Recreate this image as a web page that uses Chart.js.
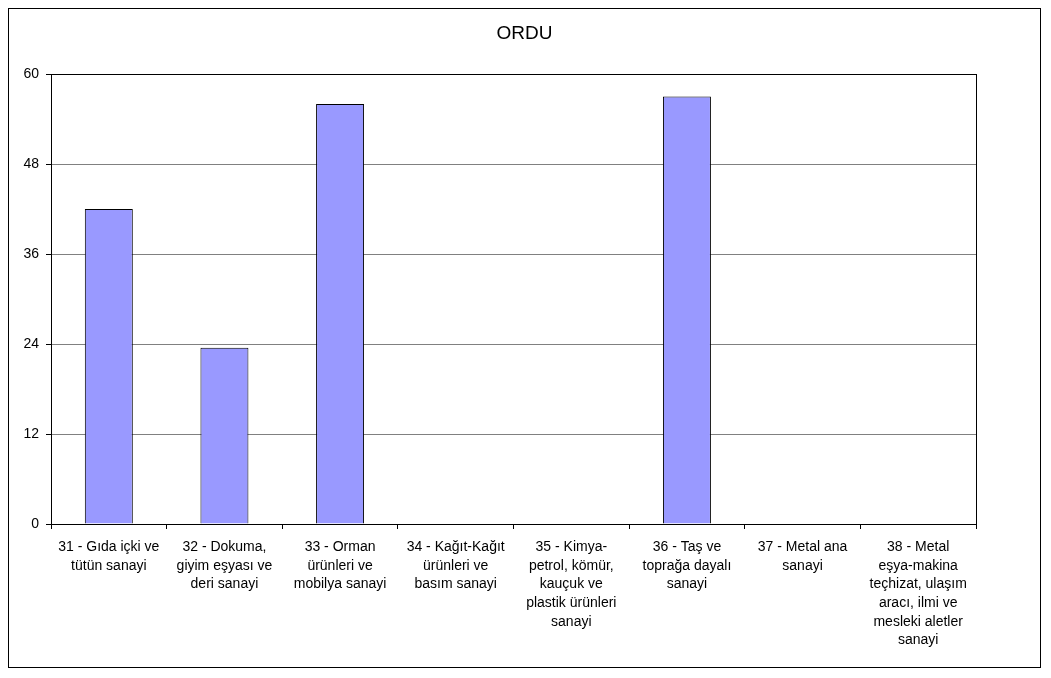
<!DOCTYPE html>
<html>
<head>
<meta charset="utf-8">
<script src="https://cdn.jsdelivr.net/npm/chart.js@4.4.1/dist/chart.umd.min.js"></script>
<style>
  body { margin: 0; background: #fff; }
  #frame {
    position: absolute; left: 8px; top: 8px;
    width: 1031px; height: 658px;
    border: 1px solid #000;
  }
</style>
</head>
<body>
<div id="frame"><canvas id="myChart" width="1031" height="658"></canvas></div>
<script>
const chartTitle = "ORDU";
const categories = [
  ["31 - Gıda içki ve", "tütün sanayi"],
  ["32 - Dokuma,", "giyim eşyası ve", "deri sanayi"],
  ["33 - Orman", "ürünleri ve", "mobilya sanayi"],
  ["34 - Kağıt-Kağıt", "ürünleri ve", "basım sanayi"],
  ["35 - Kimya-", "petrol, kömür,", "kauçuk ve", "plastik ürünleri", "sanayi"],
  ["36 - Taş ve", "toprağa dayalı", "sanayi"],
  ["37 - Metal ana", "sanayi"],
  ["38 - Metal", "eşya-makina", "teçhizat, ulaşım", "aracı, ilmi ve", "mesleki aletler", "sanayi"],
];
const values = [42, 23.5, 56, 0, 0, 57, 0, 0];
const yMax = 60;
const yStep = 12;

const fontFamily = "'Liberation Sans', Arial, sans-serif";

const ctx = document.getElementById("myChart");
new Chart(ctx, {
  type: "bar",
  data: {
    labels: categories,
    datasets: [
      {
        data: values,
        backgroundColor: "#9999FF",
        borderColor: "#000",
        borderWidth: 1,
        barPercentage: 0.415,
        categoryPercentage: 1,
      },
    ],
  },
  options: {
    responsive: false,
    animation: false,
    layout: { padding: 0 },
    plugins: {
      legend: { display: false },
      tooltip: { enabled: false },
      title: {
        display: true,
        text: chartTitle,
        color: "#000",
        font: { family: fontFamily, size: 19, weight: "normal", lineHeight: 1.2 },
        padding: { top: 13, bottom: 29.2 },
      },
    },
    scales: {
      x: {
        grid: {
          offset: true,
          drawOnChartArea: false,
          drawTicks: true,
          tickLength: 5,
          tickColor: "#000",
        },
        border: { color: "#000", width: 1 },
        ticks: {
          color: "#000",
          maxRotation: 0,
          autoSkip: false,
          padding: 9,
          font: { family: fontFamily, size: 14, lineHeight: 1.33 },
        },
        afterFit(scale) {
          scale.height = 143;
        },
      },
      y: {
        min: 0,
        max: yMax,
        grid: {
          color: (c) => (c.tick && c.tick.value === yMax ? "#000" : "#808080"),
          tickColor: "#000",
          tickLength: 5,
        },
        border: { color: "#000", width: 1 },
        ticks: {
          stepSize: yStep,
          color: "#000",
          padding: 7,
          font: { family: fontFamily, size: 14 },
        },
        afterFit(scale) {
          scale.width = 42;
        },
      },
      // right edge of the plot area, also keeps the right margin
      yRight: {
        position: "right",
        min: 0,
        max: yMax,
        grid: { drawOnChartArea: false, drawTicks: false },
        border: { color: "#000", width: 1 },
        ticks: { display: false },
        afterFit(scale) {
          scale.width = 64;
        },
      },
    },
  },
});
</script>
</body>
</html>
